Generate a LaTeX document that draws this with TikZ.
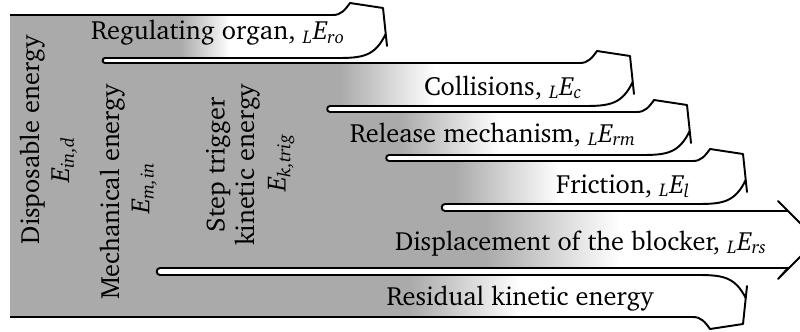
\documentclass[tikz,border=0pt]{standalone}
\usepackage[T1]{fontenc}
\usepackage{charter}
\usepackage{amsmath}
\definecolor{trunk}{RGB}{170,170,170}

% band ends, drawn in pixel units
\newcommand{\bendup}[3]{-- (#1,#2) .. controls (#1+8,#2) and (#1+12,#2-5) .. (#1+17,#2-12) -- (#1+50,#2-7) -- (#1+54,#2+31) -- (#1+52.7,#2+19) .. controls (#1+42,#3-2) and (#1+30,#3) .. (#1+5,#3)}
\newcommand{\benddown}[3]{-- (#1+5,#2) .. controls (#1+30,#2) and (#1+42,#2+2) .. (#1+52.7,#3-19) -- (#1+54,#3-31) -- (#1+50,#3+7) -- (#1+17,#3+12) .. controls (#1+12,#3+5) and (#1+8,#3) .. (#1,#3)}
\newcommand{\slitend}[3]{-- (#1,#2) to[out=180,in=180,looseness=1.6] (#1,#3)}
\newcommand{\flowoutline}{(10,15) \bendup{333}{15}{58} \slitend{105}{58}{63}
  \bendup{580}{63}{106} \slitend{330}{106}{112}
  \bendup{637}{112}{155} \slitend{389}{155}{161}
  \bendup{693}{161}{204} \slitend{445}{204}{211}
  -- (788,211) -- (778,201) -- (817,240) -- (778,279) -- (788,268) \slitend{160}{268}{275}
  \benddown{693}{275}{317} -- (10,317)}
\newcommand{\enq}[1]{$\textit{E}_{\textit{#1}}$}
\newcommand{\lossq}[1]{${}_{\textit{L}}\textit{E}_{\textit{#1}}$}

\begin{document}
\begin{tikzpicture}[x=0.02cm, y=-0.02cm,
    flowline/.style={line width=1.1pt, line join=round},
    lbl/.style={font=\fontsize{15}{18}\selectfont, inner sep=0pt},
    vlbl/.style={lbl, rotate=90}]
  \useasboundingbox (0,0) rectangle (800,331);
  \clip (0,0) rectangle (800,331);

  \begin{scope}
    \clip \flowoutline -- cycle;
    \fill[trunk] (0,0) rectangle (180,60);
    \shade[left color=trunk, right color=white] (180,0) rectangle (230,60);
    \fill[trunk] (0,60) rectangle (340,109);
    \shade[left color=trunk, right color=white] (340,60) rectangle (435,109);
    \fill[trunk] (0,109) rectangle (400,158);
    \shade[left color=trunk, right color=white] (400,109) rectangle (500,158);
    \fill[trunk] (0,158) rectangle (455,207);
    \shade[left color=trunk, right color=white] (455,158) rectangle (560,207);
    \fill[trunk] (0,207) rectangle (485,271);
    \shade[left color=trunk, right color=white] (485,207) rectangle (620,271);
    \fill[trunk] (0,271) rectangle (410,331);
    \shade[left color=trunk, right color=white] (410,271) rectangle (520,331);
  \end{scope}
  \draw[flowline] \flowoutline;

  \node[vlbl] (dispo) at (32,140) {Disposable energy};
  \node[vlbl] (ein) at (64,160) {\enq{in,d}};
  \node[vlbl] (mech) at (112,192) {Mechanical energy};
  \node[vlbl] (emin) at (144,188) {\enq{m,in}};
  \node[vlbl] (steptrig) at (218,165) {Step trigger};
  \node[vlbl] (kinen) at (247,165) {kinetic energy};
  \node[vlbl] (ektrig) at (281,163) {\enq{k,trig}};

  \node[lbl, anchor=base] (lro) at (218,40) {Regulating organ, \lossq{ro}};
  \node[lbl, anchor=base] (lc) at (503,95) {Collisions, \lossq{c}};
  \node[lbl, anchor=base] (lrm) at (493,142) {Release mechanism, \lossq{rm}};
  \node[lbl, anchor=base] (ll) at (623,193) {Friction, \lossq{l}};
  \node[lbl, anchor=base] (lrs) at (581,250) {Displacement of the blocker, \lossq{rs}};
  \node[lbl, anchor=base] (lres) at (520,305) {Residual kinetic energy};
\end{tikzpicture}
\end{document}
